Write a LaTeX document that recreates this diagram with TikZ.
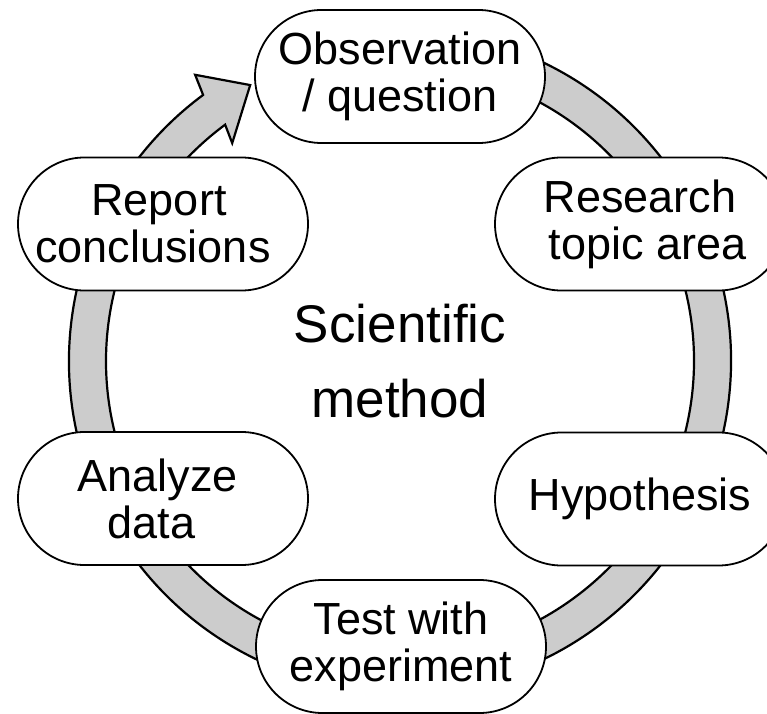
\documentclass[tikz,border=0pt]{standalone}
\usepackage{fontspec}
\setmainfont{Liberation Sans}
\definecolor{ringgray}{RGB}{204,204,204}
\tikzset{
  stadium/.style={draw=black, fill=white, line width=1.8pt, rounded corners=66.5pt,
    minimum width=290pt, minimum height=133pt, inner sep=0pt, align=center,
    font=\fontsize{45}{47}\selectfont},
  ringband/.style={draw=black, fill=ringgray, line width=2.2pt, line join=miter}
}
\begin{document}
\begin{tikzpicture}[x=1pt,y=1pt]
\useasboundingbox (0,0) rectangle (767,713);
% ring with arrow head
\begin{scope}[shift={(400,352)}]
\draw[ringband]
  (80:331pt) arc[start angle=80, end angle=-233.5, radius=331pt]
  -- (125.6:352pt) -- (118.5:314pt) -- (127.6:275pt)
  -- (-233.5:294pt) arc[start angle=-233.5, end angle=80, radius=294pt] -- cycle;
\end{scope}
% steps
\node[stadium] (obs) at (400,636.5) {Observation\\/ question};
\node[stadium] (res) at (640,489) {Research\\topic area\hspace*{-15pt}};
\node[stadium] (hyp) at (640,214) {Hypothesis};
\node[stadium] (test) at (401,66.5) {Test with\\experiment};
\node[stadium] (ana) at (163,214.5) {Analyze\hspace*{11pt}\\data\hspace*{23pt}};
\node[stadium] (rep) at (163,489) {Report\hspace*{8pt}\\conclusions\hspace*{20pt}};
% title
\node[align=center, inner sep=0pt, font=\fontsize{53}{75}\selectfont] (title) at (400,352) {Scientific\\method};
\end{tikzpicture}
\end{document}
